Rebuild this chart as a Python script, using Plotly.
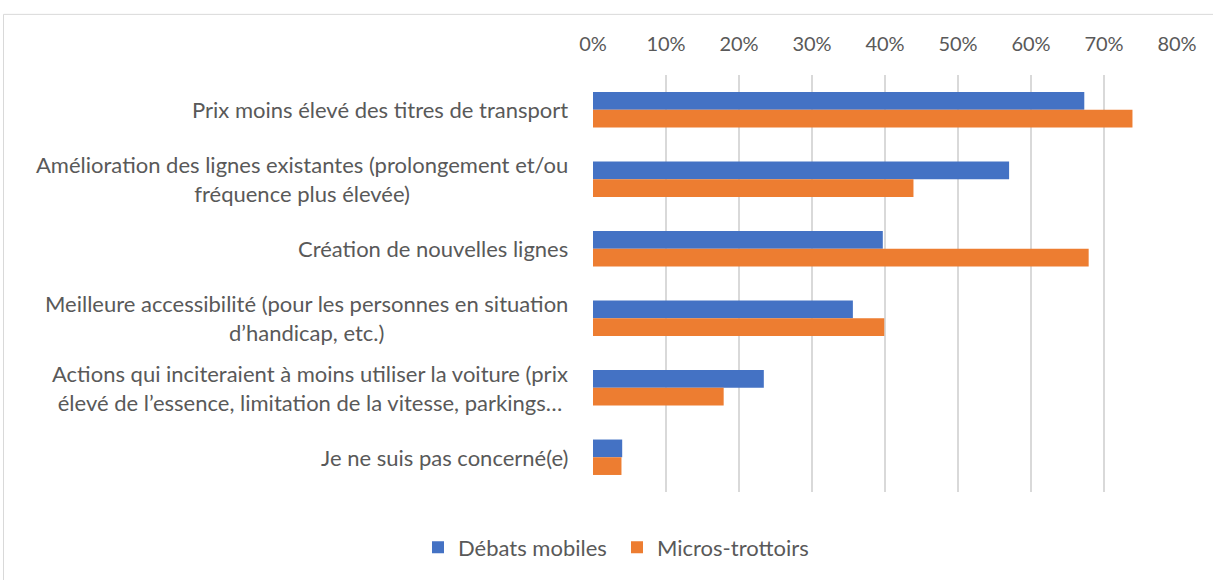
import plotly.graph_objects as go

categories = [
    "Prix moins élevé des titres de transport",
    "Amélioration des lignes existantes (prolongement et/ou<br>fréquence plus élevée)",
    "Création de nouvelles lignes",
    "Meilleure accessibilité (pour les personnes en situation<br>d’handicap, etc.)",
    "Actions qui inciteraient à moins utiliser la voiture (prix<br>élevé de l’essence, limitation de la vitesse, parkings…",
    "Je ne suis pas concerné(e)",
]
debats_mobiles = [0.673, 0.570, 0.397, 0.356, 0.234, 0.040]
micros_trottoirs = [0.739, 0.439, 0.679, 0.399, 0.179, 0.039]
tick_values = [0, 0.1, 0.2, 0.3, 0.4, 0.5, 0.6, 0.7, 0.8]
tick_labels = ["0%", "10%", "20%", "30%", "40%", "50%", "60%", "70%", "80%"]

FONT = "Lato"
TXT = "#595959"
W, H = 1213, 580
L, T = 593, 75
R = W - 1177
B = H - 498
pw, ph = W - L - R, H - T - B

def px_x(sx):
    return (sx - L) / pw

def px_y(sy):
    return (H - B - sy) / ph

fig = go.Figure()
fig.add_trace(go.Bar(y=categories, x=debats_mobiles, orientation="h",
                     name="Débats mobiles", marker=dict(color="#4472C4", line=dict(width=0))))
fig.add_trace(go.Bar(y=categories, x=micros_trottoirs, orientation="h",
                     name="Micros-trottoirs", marker=dict(color="#ED7D31", line=dict(width=0))))

for c in categories:
    fig.add_annotation(x=0, xref="paper", xshift=-23, xanchor="right",
                       y=c, yref="y", text=c, showarrow=False, align="center",
                       font=dict(family=FONT, size=22, color=TXT))

fig.add_shape(type="rect", xref="paper", yref="paper",
              x0=px_x(3.5), x1=px_x(W + 20),
              y0=px_y(13.5), y1=px_y(H + 20),
              line=dict(color="#d9d9d9", width=1), fillcolor="rgba(0,0,0,0)", layer="below")

fig.update_layout(
    width=W, height=H,
    margin=dict(l=L, r=R, t=T, b=B, pad=0),
    paper_bgcolor="white", plot_bgcolor="white",
    barmode="group", bargap=0.49, bargroupgap=0,
    font=dict(family=FONT, size=22, color=TXT),
    xaxis=dict(side="top", range=[0, 0.8], tickvals=tick_values, ticktext=tick_labels,
               showgrid=True, gridcolor="#d9d9d9", gridwidth=1.5, zeroline=False,
               showline=False, ticks="", ticklabelstandoff=19,
               tickfont=dict(family=FONT, size=20, color=TXT)),
    yaxis=dict(autorange="reversed", showticklabels=False, showgrid=False,
               zeroline=False, showline=False, ticks=""),
    legend=dict(orientation="h", x=px_x(418), xanchor="left",
                y=px_y(533), yanchor="top",
                font=dict(family=FONT, size=22, color=TXT),
                entrywidth=154, entrywidthmode="pixels", itemwidth=30),
    showlegend=True,
)

fig.write_html("out.html", config={"displayModeBar": False},
               post_script="document.body.style.margin='0px';")
